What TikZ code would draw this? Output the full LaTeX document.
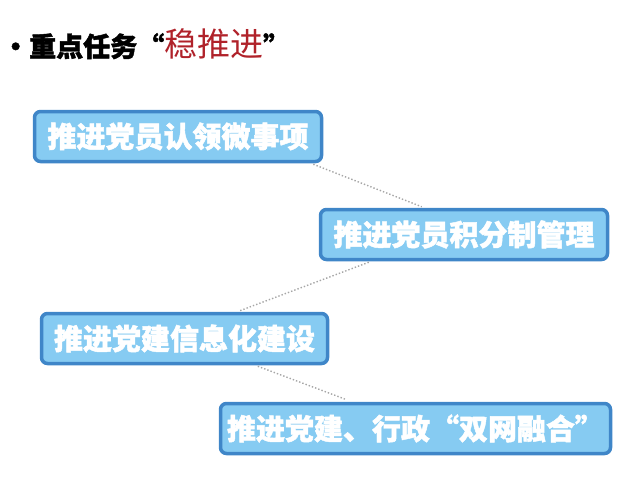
\documentclass[tikz,border=0pt]{standalone}
\usepackage{fontspec}
\newfontfamily\cjk[BoldFeatures={FakeBold=1.6}]{Noto Sans CJK SC}
\definecolor{boxfill}{HTML}{86CBF2}
\definecolor{boxline}{HTML}{3F86C8}
\definecolor{titlered}{HTML}{B0222A}
\tikzset{
  task/.style={draw=boxline, fill=boxfill, line width=3.5pt, rounded corners=6pt,
    minimum height=50pt, inner sep=0pt, text=white, font=\cjk\bfseries\fontsize{29}{29}\selectfont},
  link/.style={draw=gray!70, dotted, line width=1.4pt}
}
\begin{document}
\begin{tikzpicture}[x=1pt,y=-1pt]
   % page frame
    \useasboundingbox (0,0) rectangle (640,483);

   % title
    \node[anchor=west, inner sep=0pt, font=\cjk\bfseries\fontsize{27}{27}\selectfont] (title) at (2,44)
      {·重点任务“{\color{titlered}\mdseries\fontsize{33}{33}\selectfont 稳推进}”};

   % task boxes
    \node[task, minimum width=287pt] (b1) at (178,136.5) {推进党员认领微事项};
    \node[task, minimum width=287pt] (b2) at (464,234.5) {推进党员积分制管理};
    \node[task, minimum width=286pt] (b3) at (184.5,338.5) {推进党建信息化建设};
    \node[task, minimum width=390pt] (b4) at (415.5,428.5) {推进党建、行政“双网融合”};

   % dotted links between the boxes
    \draw[link] ([xshift=-10pt,yshift=-1pt]b1.south east) -- ([xshift=103pt,yshift=1pt]b2.north west);
    \draw[link] ([xshift=50pt,yshift=-1pt]b2.south west) -- ([xshift=200pt,yshift=1pt]b3.north west);
    \draw[link] ([xshift=218pt,yshift=-1pt]b3.south west) -- ([xshift=128pt,yshift=2pt]b4.north west);

  \end{tikzpicture}
\end{document}
